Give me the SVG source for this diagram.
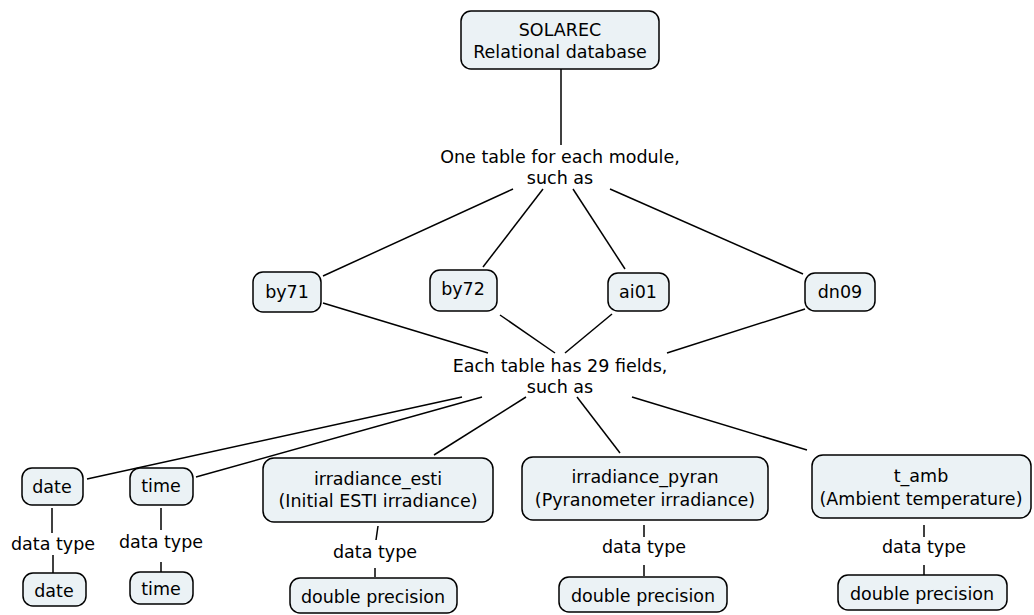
<svg xmlns="http://www.w3.org/2000/svg" width="1034" height="615" viewBox="0 0 1034 615">
<style>
.n{fill:#ebf2f5;stroke:#000;stroke-width:1.5}
text{font-family:"DejaVu Sans",Verdana,sans-serif;font-size:17.5px;fill:#000;text-anchor:middle}
.c line{stroke:#000;stroke-width:1.5}
</style>
<rect width="1034" height="615" fill="#fff"/>
<g class="c" id="connectors">
<line x1="561" y1="69" x2="561" y2="145"/>
<line x1="513" y1="189" x2="323" y2="276"/>
<line x1="543" y1="189" x2="483" y2="267"/>
<line x1="573" y1="189" x2="625" y2="269"/>
<line x1="610" y1="189" x2="803" y2="274"/>
<line x1="323" y1="303" x2="488" y2="353"/>
<line x1="500" y1="315" x2="555" y2="353"/>
<line x1="612" y1="314" x2="565" y2="353"/>
<line x1="805" y1="309" x2="667" y2="353"/>
<line x1="462" y1="397" x2="87" y2="479"/>
<line x1="482" y1="397" x2="196" y2="477"/>
<line x1="526" y1="397" x2="434" y2="455"/>
<line x1="577" y1="397" x2="620" y2="453"/>
<line x1="632" y1="397" x2="807" y2="450"/>
<line x1="52" y1="508" x2="52" y2="533"/>
<line x1="53" y1="555" x2="53" y2="573"/>
<line x1="161" y1="508" x2="161" y2="530"/>
<line x1="161" y1="562" x2="161" y2="572"/>
<line x1="378" y1="526" x2="376" y2="540"/>
<line x1="375" y1="568" x2="375" y2="577"/>
<line x1="644" y1="525" x2="644" y2="537"/>
<line x1="644" y1="565" x2="644" y2="576"/>
<line x1="924" y1="525" x2="924" y2="537"/>
<line x1="924" y1="565" x2="924" y2="575"/>
</g>
<g id="solarec"><rect class="n" x="461" y="11" width="198" height="58" rx="10"/><text x="560" y="36">SOLAREC</text><text x="560" y="58">Relational database</text></g>
<g id="onetable"><text x="560" y="163">One table for each module,</text><text x="560" y="184">such as</text></g>
<g id="by71"><rect class="n" x="253" y="272" width="68" height="40" rx="10"/><text x="287" y="298">by71</text></g>
<g id="by72"><rect class="n" x="430" y="270" width="67" height="41" rx="10"/><text x="463" y="295">by72</text></g>
<g id="ai01"><rect class="n" x="608" y="273" width="61" height="38" rx="10"/><text x="638" y="298">ai01</text></g>
<g id="dn09"><rect class="n" x="805" y="273" width="70" height="38" rx="10"/><text x="840" y="298">dn09</text></g>
<g id="eachtable"><text x="560" y="372">Each table has 29 fields,</text><text x="560" y="393">such as</text></g>
<g id="date"><rect class="n" x="22" y="468" width="61" height="37" rx="10"/><text x="52" y="493">date</text></g>
<g id="time"><rect class="n" x="130" y="468" width="63" height="37" rx="10"/><text x="161" y="492">time</text></g>
<g id="esti"><rect class="n" x="263" y="458" width="230" height="64" rx="11"/><text x="378" y="485">irradiance_esti</text><text x="378" y="507">(Initial ESTI irradiance)</text></g>
<g id="pyran"><rect class="n" x="522" y="457" width="246" height="63" rx="11"/><text x="645" y="483">irradiance_pyran</text><text x="645" y="506">(Pyranometer irradiance)</text></g>
<g id="tamb"><rect class="n" x="812" y="455" width="219" height="63" rx="11"/><text x="921" y="482">t_amb</text><text x="921" y="505">(Ambient temperature)</text></g>
<g id="dt1"><text x="53" y="550">data type</text></g>
<g id="dt2"><text x="161" y="548">data type</text></g>
<g id="dt3"><text x="375" y="558">data type</text></g>
<g id="dt4"><text x="644" y="553">data type</text></g>
<g id="dt5"><text x="924" y="553">data type</text></g>
<g id="date2"><rect class="n" x="23" y="573" width="63" height="33" rx="10"/><text x="54" y="597">date</text></g>
<g id="time2"><rect class="n" x="130" y="572" width="63" height="32" rx="10"/><text x="161" y="595">time</text></g>
<g id="dp1"><rect class="n" x="290" y="578" width="167" height="35" rx="10"/><text x="373" y="603">double precision</text></g>
<g id="dp2"><rect class="n" x="559" y="577" width="168" height="35" rx="10"/><text x="643" y="602">double precision</text></g>
<g id="dp3"><rect class="n" x="838" y="575" width="169" height="35" rx="10"/><text x="922" y="600">double precision</text></g>
</svg>
